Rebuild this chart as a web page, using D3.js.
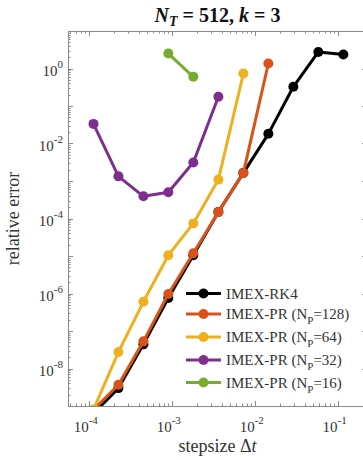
<!DOCTYPE html>
<html>
<head>
<meta charset="utf-8">
<script src="https://cdn.jsdelivr.net/npm/d3@7"></script>
<style>
  html, body { margin: 0; padding: 0; background: #fff; }
  svg { display: block; font-family: "Liberation Serif", "DejaVu Serif", serif; }
</style>
</head>
<body>
<div id="chart"></div>
<script>
// step sizes (shared by all runs, finest last)
var stepsize = [0.117, 0.0584, 0.0292, 0.0146, 0.0073, 0.00365, 0.00182, 0.00091, 0.000456, 0.000228, 0.000114]

// relative errors
var errRK4   = [2.35, 2.76, 0.325, 0.0181, 1.65e-3, 1.5e-4, 1.05e-5, 7.6e-7, 4.4e-8, 3.0e-9, 6.3e-10]
var errNp128 = [null, null, null, 1.36, 1.64e-3, 1.48e-4, 1.19e-5, 9.7e-7, 5.3e-8, 3.7e-9, 8e-10]
var errNp64  = [null, null, null, null, 0.737, 1.09e-3, 7.4e-5, 1.05e-5, 6.0e-7, 2.75e-8, 8e-10]
var errNp32  = [null, null, null, null, null, 0.177, 3.13e-3, 5.0e-4, 3.9e-4, 1.33e-3, 0.0333]
var errNp16  = [null, null, null, null, null, null, 0.6, 2.5, null, null, null]

var seriesNames = ["IMEX-RK4", "IMEX-PR (N_P=128)", "IMEX-PR (N_P=64)", "IMEX-PR (N_P=32)", "IMEX-PR (N_P=16)"]
var seriesColors = ["#000000", "#D95319", "#EDB120", "#7E2F8E", "#77AC30"]

var xTickExps = [-4, -3, -2, -1]
var yTickExps = [0, -2, -4, -6, -8]

var width = 363, height = 460
var margin = { left: 68, top: 31, right: 367, bottom: 406 }

var svg = d3.select("#chart").append("svg")
    .attr("width", width)
    .attr("height", height)

var x = d3.scaleLog()
    .domain([Math.pow(10, -4.25), Math.pow(10, -0.647)])
    .range([margin.left, margin.right])

var y = d3.scaleLog()
    .domain([1e-9, 1e1])
    .range([margin.bottom, margin.top])

var axisColor = "#8a8a8a"
var labelColor = "#333"

svg.append("defs").append("clipPath")
    .attr("id", "plotclip")
  .append("rect")
    .attr("x", margin.left)
    .attr("y", margin.top)
    .attr("width", margin.right - margin.left)
    .attr("height", margin.bottom - margin.top)

// minor + major ticks, pointing inward on all four sides
function logTicks(scale) {
  var d = scale.domain()
  var lo = Math.floor(Math.log10(d[0])), hi = Math.ceil(Math.log10(d[1]))
  var out = []
  for (var e = lo; e <= hi; e++) {
    for (var m = 1; m <= 9; m++) {
      var v = m * Math.pow(10, e)
      if (v >= d[0] && v <= d[1]) out.push({ v: v, major: m === 1 })
    }
  }
  return out
}

var ticksG = svg.append("g").attr("stroke", axisColor).attr("stroke-width", 1)

logTicks(x).forEach(function(t) {
  var px = Math.round(x(t.v)) + 0.5
  var len = t.major ? 5 : 2.5
  ticksG.append("line").attr("x1", px).attr("x2", px).attr("y1", margin.bottom).attr("y2", margin.bottom - len)
  ticksG.append("line").attr("x1", px).attr("x2", px).attr("y1", margin.top).attr("y2", margin.top + len)
})

logTicks(y).forEach(function(t) {
  var py = Math.round(y(t.v)) + 0.5
  var len = t.major ? 5 : 2.5
  ticksG.append("line").attr("x1", margin.left).attr("x2", margin.left + len).attr("y1", py).attr("y2", py)
  ticksG.append("line").attr("x1", margin.right).attr("x2", margin.right - len).attr("y1", py).attr("y2", py)
})

svg.append("rect")
    .attr("x", margin.left + 0.5)
    .attr("y", margin.top + 0.5)
    .attr("width", margin.right - margin.left)
    .attr("height", margin.bottom - margin.top)
    .attr("fill", "none")
    .attr("stroke", axisColor)
    .attr("stroke-width", 1)

// tick labels as 10^e
xTickExps.forEach(function(e) {
  var t = svg.append("text")
      .attr("x", x(Math.pow(10, e)) - 3)
      .attr("y", 432)
      .attr("text-anchor", "middle")
      .attr("font-size", 15)
      .attr("fill", labelColor)
  t.append("tspan").text("10")
  t.append("tspan").attr("dy", -8).attr("font-size", 11).text(e < 0 ? "-" + (-e) : e)
})

yTickExps.forEach(function(e) {
  var t = svg.append("text")
      .attr("x", 63)
      .attr("y", y(Math.pow(10, e)) + 7)
      .attr("text-anchor", "end")
      .attr("font-size", 15)
      .attr("fill", labelColor)
  t.append("tspan").text("10")
  t.append("tspan").attr("dy", -8).attr("font-size", 11).text(e < 0 ? "-" + (-e) : e)
})

// axis titles
svg.append("text")
    .attr("x", (margin.left + margin.right) / 2)
    .attr("y", 452)
    .attr("text-anchor", "middle")
    .attr("font-size", 18)
    .attr("fill", labelColor)
    .html('stepsize Δ<tspan font-style="italic">t</tspan>')

svg.append("text")
    .attr("transform", "translate(19," + ((margin.top + margin.bottom) / 2) + ") rotate(-90)")
    .attr("text-anchor", "middle")
    .attr("font-size", 18)
    .attr("fill", labelColor)
    .text("relative error")

var title = svg.append("text")
    .attr("x", (margin.left + margin.right) / 2)
    .attr("y", 22)
    .attr("text-anchor", "middle")
    .attr("font-size", 20)
    .attr("font-weight", "bold")
    .attr("fill", "#111")
title.append("tspan").attr("font-style", "italic").text("N")
title.append("tspan").attr("font-style", "italic").attr("font-size", 14).attr("dy", 4).text("T")
title.append("tspan").attr("dy", -4).text("\u00a0=\u00a0512,\u00a0")
title.append("tspan").attr("font-style", "italic").text("k")
title.append("tspan").text("\u00a0=\u00a03")

// series
var allErr = [errRK4, errNp128, errNp64, errNp32, errNp16]
var series = allErr.map(function(errs, i) {
  return {
    name: seriesNames[i],
    color: seriesColors[i],
    pts: errs.map(function(v, j) { return { dt: stepsize[j], err: v } }).filter(function(p) { return p.err !== null })
  }
})

var line = d3.line()
    .x(function(d) { return x(d.dt) })
    .y(function(d) { return y(d.err) })

var plot = svg.append("g").attr("clip-path", "url(#plotclip)")

series.forEach(function(s) {
  var g = plot.append("g")
  g.append("path")
      .attr("d", line(s.pts))
      .attr("fill", "none")
      .attr("stroke", s.color)
      .attr("stroke-width", 3)
      .attr("stroke-linejoin", "round")
  g.selectAll("circle")
      .data(s.pts)
      .join("circle")
      .attr("cx", function(d) { return x(d.dt) })
      .attr("cy", function(d) { return y(d.err) })
      .attr("r", 5)
      .attr("fill", s.color)
})

// legend (no box)
var legendY = [293.5, 314, 337, 360, 382.5]
var legend = svg.append("g")
series.forEach(function(s, i) {
  var ly = legendY[i]
  legend.append("line")
      .attr("x1", 186).attr("x2", 221)
      .attr("y1", ly).attr("y2", ly)
      .attr("stroke", s.color)
      .attr("stroke-width", 3)
  legend.append("circle")
      .attr("cx", 203.5).attr("cy", ly).attr("r", 5)
      .attr("fill", s.color)
  var t = legend.append("text")
      .attr("x", 226)
      .attr("y", ly + 5)
      .attr("font-size", 15)
      .attr("fill", labelColor)
  var parts = s.name.split("N_P=")
  if (parts.length === 1) {
    t.text(s.name)
  } else {
    t.append("tspan").text(parts[0] + "N")
    t.append("tspan").attr("font-size", 11).attr("dy", 5).text("P")
    t.append("tspan").attr("dy", -5).text("=" + parts[1])
  }
})
</script>
</body>
</html>
